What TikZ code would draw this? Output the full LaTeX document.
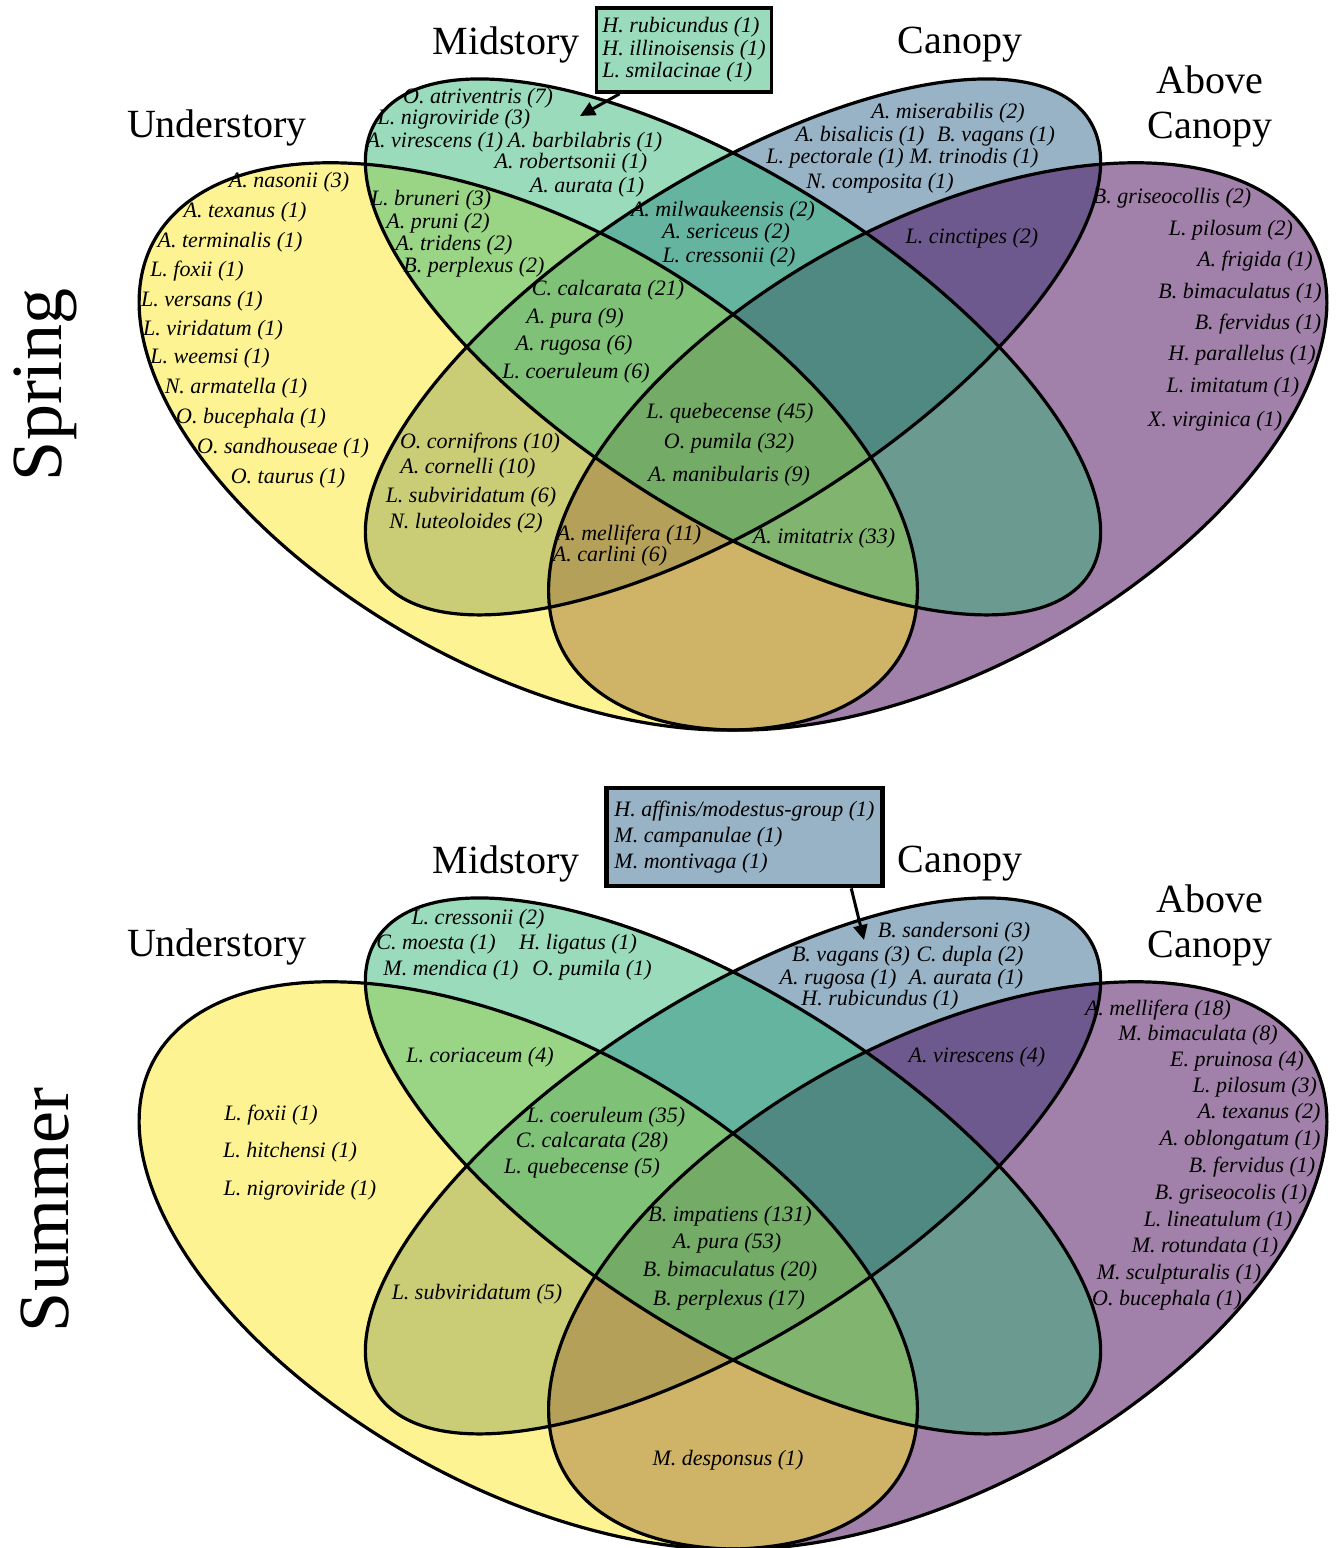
\documentclass[tikz,border=0pt]{standalone}
\usepackage{fontspec}
\setmainfont{Liberation Serif}
\usetikzlibrary{arrows.meta,calc}
\definecolor{undc}{HTML}{FDE725}
\definecolor{midc}{HTML}{35B779}
\definecolor{canc}{HTML}{31688E}
\definecolor{abvc}{HTML}{440154}
\definecolor{midlt}{RGB}{154,219,188}
\definecolor{canlt}{RGB}{152,179,198}

% four-ellipse Venn layout; #1 = vertical position of the unit origin (px)
\newcommand\quadvenn[1]{%
  \begin{scope}[shift={(50.5,#1)}, y=0.5pt, xscale=1365, yscale=995]
    \fill[canc, venn, shift={(0.5,0.57)},  rotate=45]  (0,0) ellipse [x radius=0.35, y radius=0.15];
    \fill[abvc, venn, shift={(0.65,0.47)}, rotate=45]  (0,0) ellipse [x radius=0.35, y radius=0.2];
    \fill[undc, venn, shift={(0.35,0.47)}, rotate=-45] (0,0) ellipse [x radius=0.35, y radius=0.2];
    \fill[midc, venn, shift={(0.5,0.57)},  rotate=-45] (0,0) ellipse [x radius=0.35, y radius=0.15];
    \draw[outline, shift={(0.5,0.57)},  rotate=45]  (0,0) ellipse [x radius=0.35, y radius=0.15];
    \draw[outline, shift={(0.65,0.47)}, rotate=45]  (0,0) ellipse [x radius=0.35, y radius=0.2];
    \draw[outline, shift={(0.35,0.47)}, rotate=-45] (0,0) ellipse [x radius=0.35, y radius=0.2];
    \draw[outline, shift={(0.5,0.57)},  rotate=-45] (0,0) ellipse [x radius=0.35, y radius=0.15];
  \end{scope}}

\begin{document}
\begin{tikzpicture}[x=0.5pt,y=-0.5pt,
  sp/.style={font=\fontsize{11}{13}\selectfont\itshape, inner sep=0pt},
  lab/.style={font=\fontsize{20}{22.5}\selectfont, align=center, inner sep=0pt},
  season/.style={font=\fontsize{36}{40}\selectfont, rotate=90, inner sep=0pt},
  venn/.style={fill opacity=0.5},
  outline/.style={draw=black, line width=1.6pt},
  listbox/.style={draw=black, align=left, inner ysep=0pt, font=\fontsize{11}{11.25}\selectfont\itshape},
  pointer/.style={line width=1.5pt, -{Triangle[length=7.5pt,width=7pt]}}
]
\useasboundingbox (0,0) rectangle (1336,1548);

% ---------------- Spring ----------------
\quadvenn{914.075}

\node[season] (spring) at (45,385) {Spring};
\node[lab] (sLmid) at (506,45) {Midstory};
\node[lab] (sLcan) at (960,45) {Canopy};
\node[lab] (sLund) at (217,128) {Understory};
\node[lab] (sLabv) at (1210,106) {Above\\[0pt]Canopy};

\node[listbox, fill=midlt, line width=1.8pt, minimum width=86pt, minimum height=42pt,
      inner xsep=3pt] (sbox) at (684,50)
  {H. rubicundus (1)\\H. illinoisensis (1)\\L. smilacinae (1)};
\coordinate (stip) at (580,116);
\draw[pointer] ($(sbox.south west)!0.14!(sbox.south east)$) -- (stip);

% understory only
\node[sp] (s1) at (289,182) {A. nasonii (3)};
\node[sp] (s2) at (245,212) {A. texanus (1)};
\node[sp] (s3) at (230,242) {A. terminalis (1)};
\node[sp] (s4) at (197,271) {L. foxii (1)};
\node[sp] (s5) at (202,301) {L. versans (1)};
\node[sp] (s6) at (213,330) {L. viridatum (1)};
\node[sp] (s7) at (210,358) {L. weemsi (1)};
\node[sp] (s8) at (236,388) {N. armatella (1)};
\node[sp] (s9) at (251,418) {O. bucephala (1)};
\node[sp] (s10) at (283,448) {O. sandhouseae (1)};
\node[sp] (s11) at (288,478) {O. taurus (1)};
% midstory only
\node[sp] (s12) at (478,98) {O. atriventris (7)};
\node[sp] (s13) at (454,119) {L. nigroviride (3)};
\node[sp] (s14) at (435,142) {A. virescens (1)};
\node[sp] (s15) at (585,142) {A. barbilabris (1)};
\node[sp] (s16) at (571,163) {A. robertsonii (1)};
\node[sp] (s17) at (587,187) {A. aurata (1)};
% canopy only
\node[sp] (s18) at (948,113) {A. miserabilis (2)};
\node[sp] (s19) at (860,136) {A. bisalicis (1)};
\node[sp] (s20) at (996,136) {B. vagans (1)};
\node[sp] (s21) at (835,158) {L. pectorale (1)};
\node[sp] (s22) at (974,158) {M. trinodis (1)};
\node[sp] (s23) at (880,183) {N. composita (1)};
% above canopy only
\node[sp] (s24) at (1172,198) {B. griseocollis (2)};
\node[sp] (s25) at (1231,230) {L. pilosum (2)};
\node[sp] (s26) at (1255,261) {A. frigida (1)};
\node[sp] (s27) at (1240,293) {B. bimaculatus (1)};
\node[sp] (s28) at (1258,324) {B. fervidus (1)};
\node[sp] (s29) at (1242,355) {H. parallelus (1)};
\node[sp] (s30) at (1233,387) {L. imitatum (1)};
\node[sp] (s31) at (1215,421) {X. virginica (1)};
% understory & midstory
\node[sp] (s32) at (431,200) {L. bruneri (3)};
\node[sp] (s33) at (438,223) {A. pruni (2)};
\node[sp] (s34) at (454,245) {A. tridens (2)};
\node[sp] (s35) at (474,267) {B. perplexus (2)};
% midstory & canopy
\node[sp] (s36) at (723,211) {A. milwaukeensis (2)};
\node[sp] (s37) at (726,233) {A. sericeus (2)};
\node[sp] (s38) at (729,257) {L. cressonii (2)};
% canopy & above canopy
\node[sp] (s39) at (972,238) {L. cinctipes (2)};
% understory, midstory & canopy
\node[sp] (s40) at (608,290) {C. calcarata (21)};
\node[sp] (s41) at (575,318) {A. pura (9)};
\node[sp] (s42) at (574,345) {A. rugosa (6)};
\node[sp] (s43) at (576,373) {L. coeruleum (6)};
% all four
\node[sp] (s44) at (730,413) {L. quebecense (45)};
\node[sp] (s45) at (729,443) {O. pumila (32)};
\node[sp] (s46) at (729,476) {A. manibularis (9)};
% understory & canopy
\node[sp] (s47) at (480,443) {O. cornifrons (10)};
\node[sp] (s48) at (468,468) {A. cornelli (10)};
\node[sp] (s49) at (471,497) {L. subviridatum (6)};
\node[sp] (s50) at (466,523) {N. luteoloides (2)};
% understory, canopy & above canopy
\node[sp] (s51) at (629,535) {A. mellifera (11)};
\node[sp] (s52) at (610,556) {A. carlini (6)};
% understory, midstory & above canopy
\node[sp] (s53) at (824,538) {A. imitatrix (33)};

% ---------------- Summer ----------------
\quadvenn{1733.075}

\node[season] (summer) at (45,1210) {Summer};
\node[lab] (uLmid) at (506,864) {Midstory};
\node[lab] (uLcan) at (960,864) {Canopy};
\node[lab] (uLund) at (217,947) {Understory};
\node[lab] (uLabv) at (1210,925) {Above\\[0pt]Canopy};

\node[listbox, fill=canlt, line width=2.4pt, minimum width=135.5pt, minimum height=49pt,
      inner xsep=4pt, font=\fontsize{11}{13}\selectfont\itshape] (ubox) at (744.5,837)
  {H. affinis/modestus-group (1)\\M. campanulae (1)\\M. montivaga (1)};
\coordinate (utip) at (864,940);
\draw[pointer] ($(ubox.south west)!0.88!(ubox.south east)$) -- (utip);

% understory only
\node[sp] (u1) at (271,1115) {L. foxii (1)};
\node[sp] (u2) at (290,1152) {L. hitchensi (1)};
\node[sp] (u3) at (300,1190) {L. nigroviride (1)};
% midstory only
\node[sp] (u4) at (478,919) {L. cressonii (2)};
\node[sp] (u5) at (436,944) {C. moesta (1)};
\node[sp] (u6) at (578,944) {H. ligatus (1)};
\node[sp] (u7) at (451,970) {M. mendica (1)};
\node[sp] (u8) at (592,970) {O. pumila (1)};
% canopy only
\node[sp] (u9) at (954,932) {B. sandersoni (3)};
\node[sp] (u10) at (851,956) {B. vagans (3)};
\node[sp] (u11) at (970,956) {C. dupla (2)};
\node[sp] (u12) at (838,979) {A. rugosa (1)};
\node[sp] (u13) at (966,979) {A. aurata (1)};
\node[sp] (u14) at (880,1000) {H. rubicundus (1)};
% above canopy only
\node[sp] (u15) at (1158,1010) {A. mellifera (18)};
\node[sp] (u16) at (1198,1035) {M. bimaculata (8)};
\node[sp] (u17) at (1237,1061) {E. pruinosa (4)};
\node[sp] (u18) at (1255,1087) {L. pilosum (3)};
\node[sp] (u19) at (1259,1113) {A. texanus (2)};
\node[sp] (u20) at (1240,1140) {A. oblongatum (1)};
\node[sp] (u21) at (1252,1167) {B. fervidus (1)};
\node[sp] (u22) at (1231,1194) {B. griseocolis (1)};
\node[sp] (u23) at (1218,1221) {L. lineatulum (1)};
\node[sp] (u24) at (1205,1247) {M. rotundata (1)};
\node[sp] (u25) at (1179,1274) {M. sculpturalis (1)};
\node[sp] (u26) at (1167,1300) {O. bucephala (1)};
% understory & midstory
\node[sp] (u27) at (480,1057) {L. coriaceum (4)};
% understory, midstory & canopy
\node[sp] (u28) at (606,1117) {L. coeruleum (35)};
\node[sp] (u29) at (592,1142) {C. calcarata (28)};
\node[sp] (u30) at (582,1168) {L. quebecense (5)};
% canopy & above canopy
\node[sp] (u31) at (977,1057) {A. virescens (4)};
% all four
\node[sp] (u32) at (730,1216) {B. impatiens (131)};
\node[sp] (u33) at (727,1243) {A. pura (53)};
\node[sp] (u34) at (730,1271) {B. bimaculatus (20)};
\node[sp] (u35) at (729,1300) {B. perplexus (17)};
% understory & canopy
\node[sp] (u36) at (477,1294) {L. subviridatum (5)};
% understory & above canopy
\node[sp] (u37) at (728,1460) {M. desponsus (1)};

\end{tikzpicture}
\end{document}
